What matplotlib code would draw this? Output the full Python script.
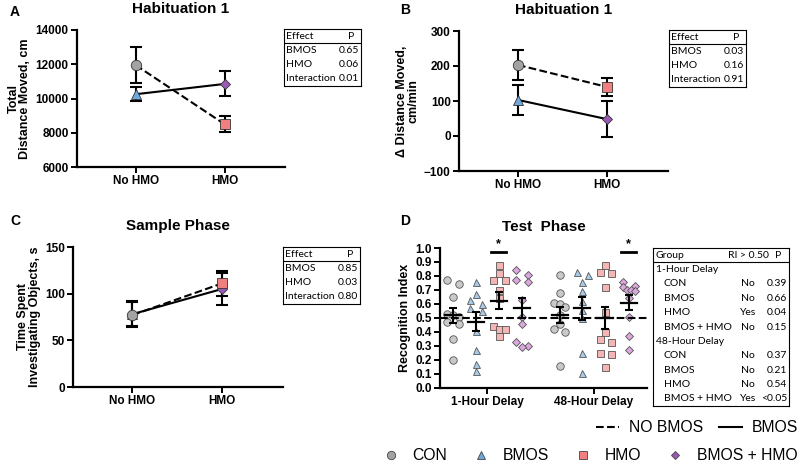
import numpy as np
import matplotlib
matplotlib.use("Agg")
import matplotlib.pyplot as plt
from matplotlib.lines import Line2D

plt.rcParams['font.family'] = ['Liberation Sans', 'DejaVu Sans']

# ---------------- data ----------------
conditions = ["No HMO", "HMO"]
groups = ["CON", "BMOS", "HMO", "BMOS + HMO"]

# Panel A: Total distance moved (mean, lower err, upper err)
a_mean = {"CON": 11950, "BMOS": 10250, "HMO": 8500, "BMOS + HMO": 10850}
a_lo = {"CON": 10900, "BMOS": 9850, "HMO": 8050, "BMOS + HMO": 10150}
a_hi = {"CON": 13000, "BMOS": 10650, "HMO": 9000, "BMOS + HMO": 11600}
a_table = [("BMOS", "0.65"), ("HMO", "0.06"), ("Interaction", "0.01")]

# Panel B: delta distance moved
b_mean = {"CON": 203, "BMOS": 103, "HMO": 140, "BMOS + HMO": 48}
b_lo = {"CON": 160, "BMOS": 60, "HMO": 113, "BMOS + HMO": -3}
b_hi = {"CON": 247, "BMOS": 147, "HMO": 166, "BMOS + HMO": 100}
b_table = [("BMOS", "0.03"), ("HMO", "0.16"), ("Interaction", "0.91")]

# Panel C: time spent investigating objects
c_mean = {"CON": 77, "BMOS": 78, "HMO": 111, "BMOS + HMO": 105}
c_lo = {"CON": 64, "BMOS": 65, "HMO": 98, "BMOS + HMO": 88}
c_hi = {"CON": 92, "BMOS": 91, "HMO": 124, "BMOS + HMO": 122}
c_table = [("BMOS", "0.85"), ("HMO", "0.03"), ("Interaction", "0.80")]

# Panel D: recognition index, individual animals
delays = ["1-Hour Delay", "48-Hour Delay"]
d_1h_con = [0.77, 0.74, 0.65, 0.53, 0.52, 0.51, 0.47, 0.46, 0.35, 0.20]
d_1h_bmos = [0.76, 0.67, 0.63, 0.60, 0.57, 0.55, 0.41, 0.27, 0.17, 0.12]
d_1h_hmo = [0.88, 0.82, 0.77, 0.77, 0.70, 0.64, 0.44, 0.42, 0.42, 0.37]
d_1h_bh = [0.84, 0.81, 0.77, 0.76, 0.63, 0.51, 0.46, 0.33, 0.30, 0.29]
d_48h_con = [0.81, 0.68, 0.61, 0.60, 0.58, 0.52, 0.46, 0.42, 0.40, 0.16]
d_48h_bmos = [0.83, 0.81, 0.76, 0.69, 0.62, 0.56, 0.50, 0.25, 0.11]
d_48h_hmo = [0.88, 0.83, 0.82, 0.72, 0.54, 0.40, 0.35, 0.33, 0.25, 0.24, 0.15]
d_48h_bh = [0.76, 0.73, 0.72, 0.70, 0.70, 0.69, 0.64, 0.51, 0.37, 0.27]
d_table_1h = [("CON", "No", "0.39"), ("BMOS", "No", "0.66"),
              ("HMO", "Yes", "0.04"), ("BMOS + HMO", "No", "0.15")]
d_table_48h = [("CON", "No", "0.37"), ("BMOS", "No", "0.21"),
               ("HMO", "No", "0.54"), ("BMOS + HMO", "Yes", "<0.05")]

# ---------------- styles ----------------
markers = {"CON": "o", "BMOS": "^", "HMO": "s", "BMOS + HMO": "D"}
colors = {"CON": "#a3a3a3", "BMOS": "#6fa8dc", "HMO": "#f07f7f", "BMOS + HMO": "#9b59b6"}
light = {"CON": "#c9c9c9", "BMOS": "#a9cbeb", "HMO": "#f5b5b5", "BMOS + HMO": "#dba7dc"}
msizes = {"CON": 7.5, "BMOS": 7, "HMO": 7, "BMOS + HMO": 5.5}
xpos = {"CON": 0, "BMOS": 0, "HMO": 1, "BMOS + HMO": 1}
draw_order = ["BMOS", "BMOS + HMO", "CON", "HMO"]
table_font = ["Lato", "DejaVu Sans"]

fig = plt.figure(figsize=(8, 4.67), dpi=100)
W, H = 800, 467


def ax_px(l, t, r, b):
    return fig.add_axes([l / W, 1 - b / H, (r - l) / W, (b - t) / H])


def style(ax):
    for s in ["top", "right"]:
        ax.spines[s].set_visible(False)
    for s in ["left", "bottom"]:
        ax.spines[s].set_linewidth(1.6)
    ax.tick_params(width=1.4, length=4, labelsize=8.5, pad=2)
    for lab in ax.get_xticklabels() + ax.get_yticklabels():
        lab.set_fontweight("bold")


def line_panel(ax, mean, lo, hi, ylim, yticks, ylabel, title):
    ax.plot([0, 1], [mean["CON"], mean["HMO"]], "k--", lw=1.5, zorder=2)
    ax.plot([0, 1], [mean["BMOS"], mean["BMOS + HMO"]], "k-", lw=1.5, zorder=2)
    for g in draw_order:
        x = xpos[g]
        ax.errorbar([x], [mean[g]], yerr=[[mean[g] - lo[g]], [hi[g] - mean[g]]],
                    fmt="none", ecolor="black", elinewidth=1.5, capsize=4.5,
                    capthick=1.5, zorder=3)
    for i, g in enumerate(draw_order):
        x = xpos[g]
        ax.plot([x], [mean[g]], marker=markers[g], color=colors[g],
                markersize=msizes[g], markeredgecolor="#333333",
                markeredgewidth=0.6, linestyle="none", zorder=4 + i)
    ax.set_xlim(-0.66, 1.68)
    ax.set_ylim(*ylim)
    ax.set_yticks(yticks)
    ax.set_xticks([0, 1])
    ax.set_xticklabels(conditions)
    ax.set_ylabel(ylabel, fontsize=9, fontweight="bold", linespacing=1.0, labelpad=3)
    ax.set_title(title, fontsize=11, fontweight="bold", pad=12)
    style(ax)


def effect_table(l, t, rows):
    tab = ax_px(l, t, l + 77, t + 57)
    tab.set_xlim(0, 1)
    tab.set_ylim(0, 4)
    tab.invert_yaxis()
    tab.set_xticks([])
    tab.set_yticks([])
    for s in tab.spines.values():
        s.set_linewidth(0.8)
    tf = dict(fontsize=7.5, family=table_font, va="center")
    tab.text(0.03, 0.5, "Effect", **tf)
    tab.text(0.87, 0.5, "P", ha="center", **tf)
    tab.axhline(1, color="black", lw=0.8)
    for i, (e, p) in enumerate(rows):
        tab.text(0.03, 1.5 + i, e, **tf)
        tab.text(0.98, 1.5 + i, p, ha="right", **tf)


# Panel A
axA = ax_px(77, 30, 285, 167)
line_panel(axA, a_mean, a_lo, a_hi, (6000, 14000), [6000, 8000, 10000, 12000, 14000],
           "Total\nDistance Moved, cm", "Habituation 1")
effect_table(284, 29, a_table)

# Panel B
axB = ax_px(459, 31, 668, 171)
line_panel(axB, b_mean, b_lo, b_hi, (-100, 300), [-100, 0, 100, 200, 300],
           "\u0394 Distance Moved,\ncm/min", "Habituation 1")
effect_table(669, 30, b_table)

# Panel C
axC = ax_px(73, 247, 283, 387)
line_panel(axC, c_mean, c_lo, c_hi, (0, 150), [0, 50, 100, 150],
           "Time Spent\nInvestigating Objects, s", "Sample Phase")
effect_table(283, 247, c_table)

# Panel D
axD = ax_px(440, 248, 647, 388)
d_data = [[d_1h_con, d_1h_bmos, d_1h_hmo, d_1h_bh],
          [d_48h_con, d_48h_bmos, d_48h_hmo, d_48h_bh]]
offs = [-0.32, -0.105, 0.11, 0.33]
jit = 0.055
for di, sets in enumerate(d_data):
    for gi, vals in enumerate(sets):
        g = groups[gi]
        cx = di + offs[gi]
        vals = np.array(vals)
        xs = np.full(len(vals), cx)
        order = np.argsort(-vals)
        # points with near-equal values are placed side by side
        k = 0
        while k < len(order):
            j = k
            while j + 1 < len(order) and vals[order[k]] - vals[order[j + 1]] < 0.035:
                j += 1
            n = j - k + 1
            if n == 2:
                shifts = [-jit, jit]
            elif n > 2:
                shifts = np.linspace(-jit, jit, n)
            else:
                shifts = [0.0]
            for q, idx in enumerate(order[k:j + 1]):
                xs[idx] = cx + shifts[q]
            k = j + 1
        axD.plot(xs, vals, linestyle="none", marker=markers[g],
                 color=light[g], markersize=msizes[g] * 0.72,
                 markeredgecolor="#555555", markeredgewidth=0.6, zorder=2)
        m = vals.mean()
        sem = vals.std(ddof=1) / np.sqrt(len(vals))
        axD.plot([cx - 0.075, cx + 0.075], [m, m], color="black", lw=1.6, zorder=4)
        axD.errorbar([cx], [m], yerr=[sem], fmt="none", ecolor="black",
                     elinewidth=1.5, capsize=3, capthick=1.5, zorder=4)
axD.axhline(0.5, color="black", lw=1.5, ls="--", zorder=3)
# significance marks
for di, gi in [(0, 2), (1, 3)]:
    cx = di + offs[gi]
    axD.plot([cx - 0.07, cx + 0.07], [0.975, 0.975], color="black", lw=2, clip_on=False)
    axD.text(cx, 0.985, "*", ha="center", va="bottom", fontsize=9, fontweight="bold")
axD.set_xlim(-0.44, 1.5)
axD.set_ylim(0, 1.0)
axD.set_yticks(np.arange(0, 1.01, 0.1))
axD.set_yticklabels([f"{v:.1f}" for v in np.arange(0, 1.01, 0.1)])
axD.set_xticks([0, 1])
axD.set_xticklabels(delays)
axD.set_ylabel("Recognition Index", fontsize=9, fontweight="bold", labelpad=3)
axD.set_title("Test  Phase", fontsize=11, fontweight="bold", pad=12)
style(axD)

# Panel D table
tabD = ax_px(653, 248, 789, 406)
tabD.set_xlim(0, 1)
tabD.set_ylim(0, 11)
tabD.invert_yaxis()
tabD.set_xticks([])
tabD.set_yticks([])
for s in tabD.spines.values():
    s.set_linewidth(0.8)
tf = dict(fontsize=7.5, family=table_font, va="center")
tabD.text(0.02, 0.5, "Group", **tf)
tabD.text(0.70, 0.5, "RI > 0.50", ha="center", **tf)
tabD.text(0.92, 0.5, "P", ha="center", **tf)
tabD.axhline(1, color="black", lw=0.8)
row = 1
for head, rows in [("1-Hour Delay", d_table_1h), ("48-Hour Delay", d_table_48h)]:
    tabD.text(0.02, row + 0.5, head, **tf)
    row += 1
    for gname, yes, p in rows:
        tabD.text(0.08, row + 0.5, gname, **tf)
        tabD.text(0.70, row + 0.5, yes, ha="center", **tf)
        tabD.text(0.985, row + 0.5, p, ha="right", **tf)
        row += 1

# Panel letters
for lab, x, y in [("A", 10, 12), ("B", 400, 10), ("C", 10, 221), ("D", 400, 221)]:
    fig.text(x / W, 1 - y / H, lab, fontsize=10, fontweight="bold", va="center")

# Legends
line_handles = [Line2D([], [], color="black", ls="--", lw=1.5),
                Line2D([], [], color="black", ls="-", lw=1.5)]
fig.legend(line_handles, ["NO BMOS", "BMOS"], loc="center right",
           bbox_to_anchor=(798 / W, 1 - 428 / H), ncol=2, frameon=False,
           fontsize=11.3, handlelength=1.45, columnspacing=1.0, handletextpad=0.65,
           borderaxespad=0, borderpad=0)
mk_handles = [Line2D([], [], marker=markers[g], color=colors[g], ls="none",
                     markeredgecolor="#444444", markeredgewidth=0.6,
                     markersize=msizes[g] * 0.8) for g in groups]
fig.legend(mk_handles, groups, loc="center right",
           bbox_to_anchor=(798 / W, 1 - 456 / H), ncol=4, frameon=False,
           fontsize=11.3, handlelength=1.0, columnspacing=1.65, handletextpad=0.9,
           borderaxespad=0, borderpad=0)

fig.savefig("out.png", dpi=100)
